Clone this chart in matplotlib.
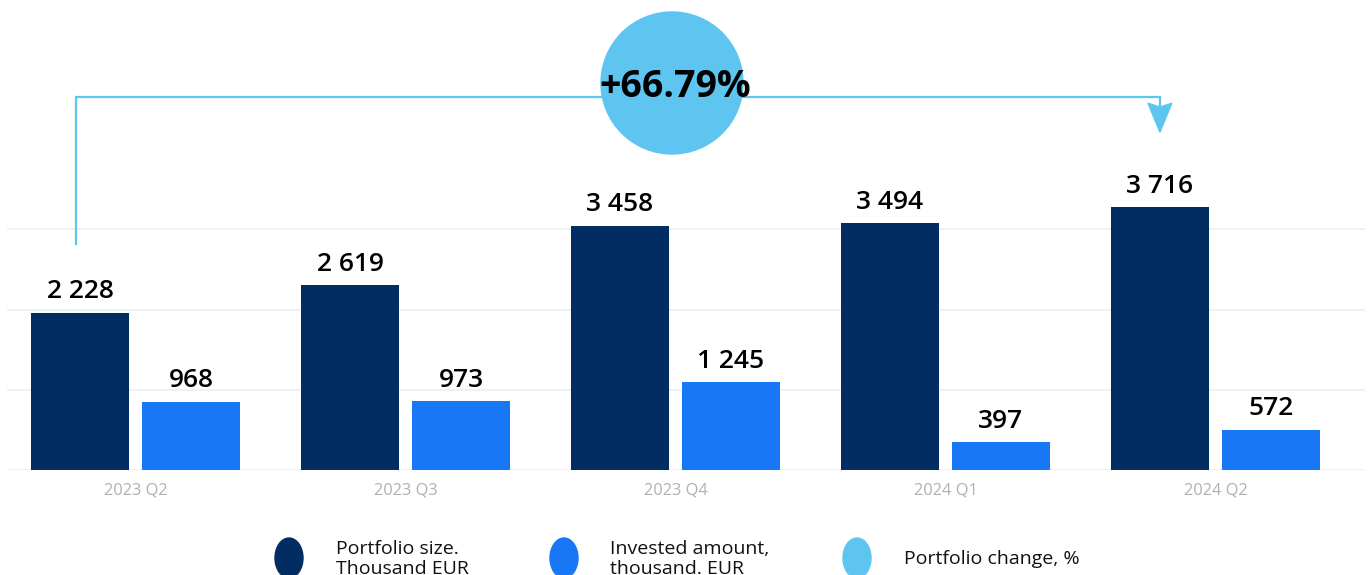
import matplotlib
matplotlib.use("Agg")
import matplotlib.pyplot as plt
from matplotlib.patches import Ellipse, Polygon
import numpy as np

quarters = ["2023 Q2", "2023 Q3", "2023 Q4", "2024 Q1", "2024 Q2"]
portfolio_size = [2228, 2619, 3458, 3494, 3716]
invested_amount = [968, 973, 1245, 397, 572]
legend_labels = ["Portfolio size.\nThousand EUR",
                 "Invested amount,\nthousand. EUR",
                 "Portfolio change, %"]

NAVY = "#022d63"
BLUE = "#1777f5"
SKY = "#5ec5f0"
GRID = "#eaf3fa"

W, H = 1370, 575
plt.rcParams["font.family"] = ["Open Sans", "DejaVu Sans"]


def fmt(v):
    return f"{v:,}".replace(",", " ")


def main():
    fig = plt.figure(figsize=(W / 100, H / 100), dpi=100)
    # main plotting area, placed in pixel terms
    left, right, top, base = 7, 1365, 0, 470
    ax = fig.add_axes([left / W, (H - base) / H, (right - left) / W, (base - top) / H])
    y_max = 6650
    ax.set_ylim(0, y_max)
    ax.set_xlim(-0.476, 4.554)

    x = np.arange(len(quarters))
    off, width = 0.2056, 0.363
    b1 = ax.bar(x - off, portfolio_size, width, color=NAVY, zorder=2)
    b2 = ax.bar(x + off, invested_amount, width, color=BLUE, zorder=2)
    for bars, vals in ((b1, portfolio_size), (b2, invested_amount)):
        ax.bar_label(bars, labels=[fmt(v) for v in vals], padding=6,
                     fontsize=19, fontweight="semibold", color="#000000")

    ax.set_yticks([0, 1135, 2270, 3405])
    ax.yaxis.grid(True, color=GRID, linewidth=1.5, zorder=0)
    ax.tick_params(axis="y", left=False, labelleft=False)
    ax.set_xticks(x)
    ax.set_xticklabels(quarters, fontsize=11.8, color="#b0b0b0")
    ax.tick_params(axis="x", length=0, pad=9)
    for s in ax.spines.values():
        s.set_visible(False)

    # bracket from first to last portfolio bar
    xa, xb = x[0] - off - 0.015, x[-1] - off
    y_top, y_start, y_tip = 5280, 3200, 4780
    ax.plot([xa, xa, xb, xb], [y_start, y_top, y_top, y_tip + 300],
            color=SKY, lw=1.6, zorder=3, solid_joinstyle="miter")
    px_x = (right - left) / (4.554 + 0.476)
    px_y = (base - top) / y_max
    hw, hl, notch = 12 / px_x, 29 / px_y, 4 / px_y
    head = Polygon([[xb, y_tip], [xb - hw, y_tip + hl], [xb, y_tip + hl - notch],
                    [xb + hw, y_tip + hl]], closed=True, color=SKY, zorder=3)
    ax.add_patch(head)

    # overlay in figure pixels for the change bubble and the legend
    ov = fig.add_axes([0, 0, 1, 1])
    ov.set_xlim(0, W)
    ov.set_ylim(H, 0)
    ov.axis("off")
    change = (portfolio_size[-1] / portfolio_size[0] - 1) * 100
    ov.add_patch(Ellipse((672, 83), 142, 142, color=SKY, zorder=2))
    ov.text(675, 87, f"+{change:.2f}%", ha="center", va="center",
            fontsize=27, fontweight="bold", color="#000000", zorder=3)

    for cx, tx, col, lab in zip([289, 564, 857], [336, 610, 904],
                                [NAVY, BLUE, SKY], legend_labels):
        ov.add_patch(Ellipse((cx, 558), 28, 40, color=col))
        ov.text(tx, 559, lab, ha="left", va="center", fontsize=14,
                color="#111111", linespacing=1.18)

    fig.savefig("out.png", dpi=100)
    plt.close(fig)


if __name__ == "__main__":
    main()
